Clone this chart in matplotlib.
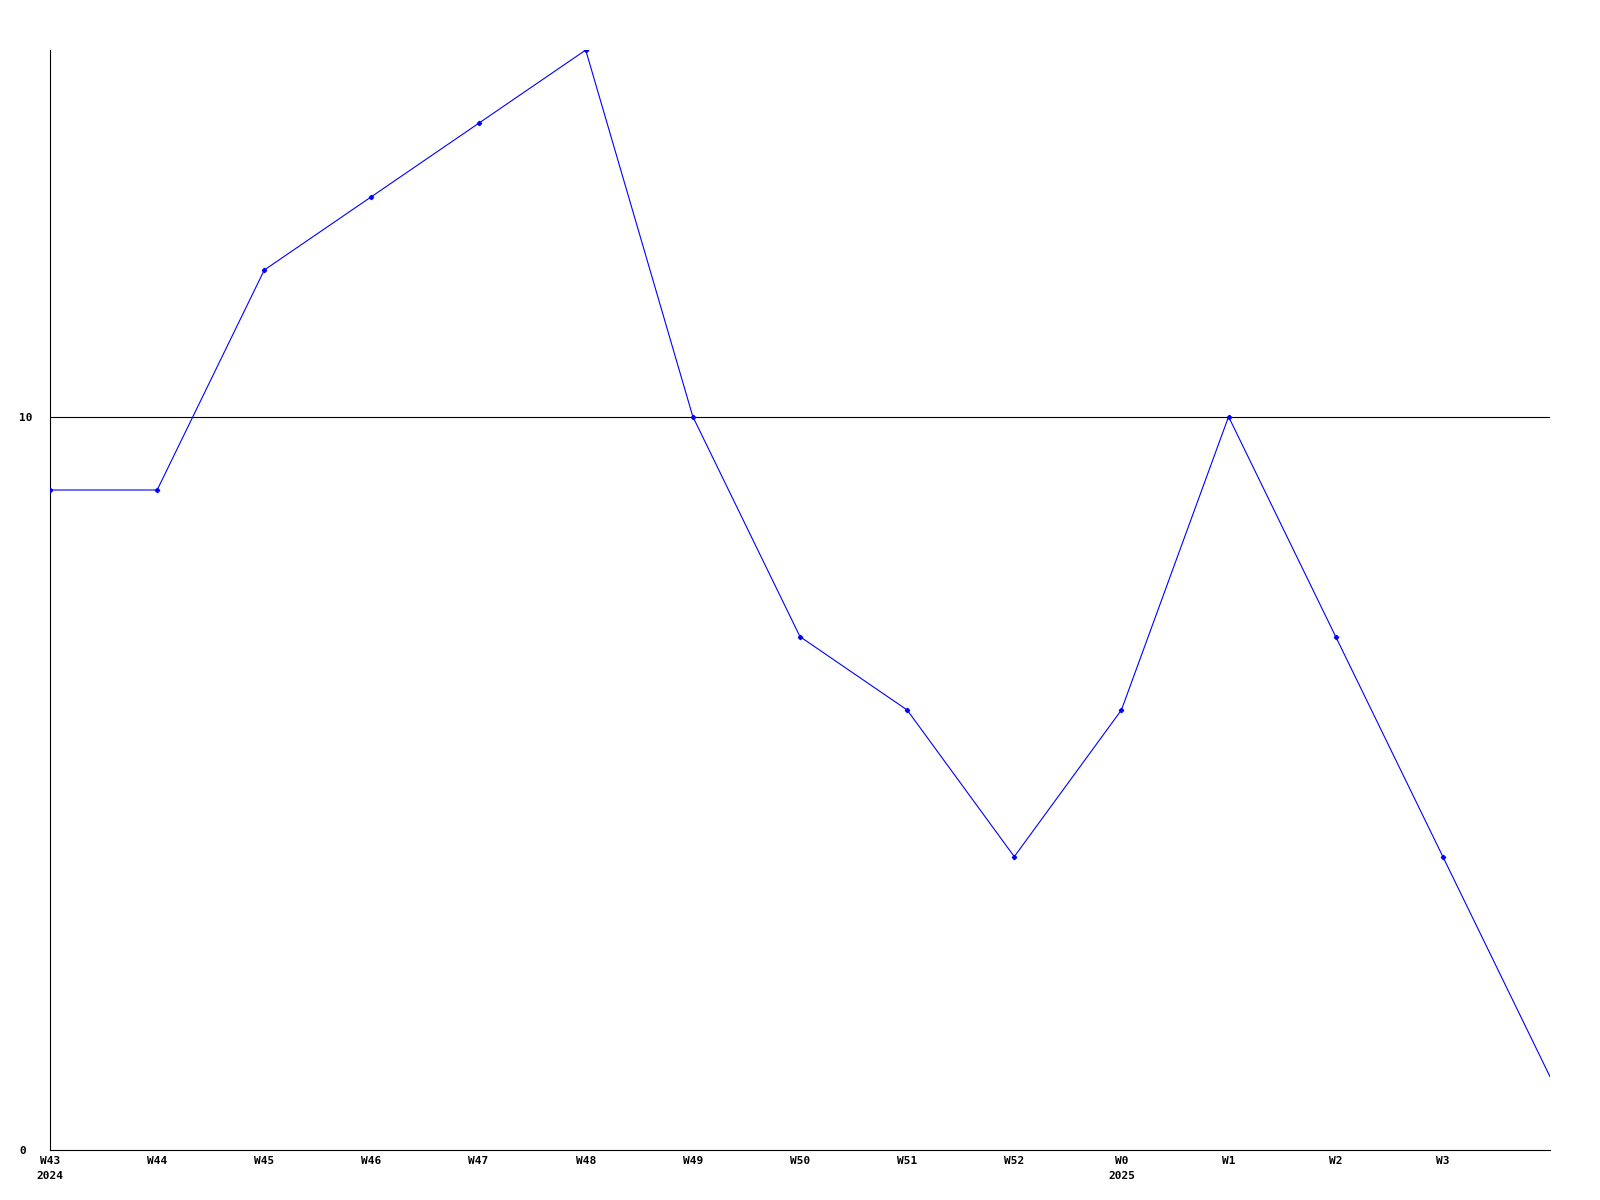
import matplotlib
matplotlib.use("Agg")
import matplotlib.pyplot as plt

weeks = ["W43", "W44", "W45", "W46", "W47", "W48", "W49", "W50", "W51", "W52", "W0", "W1", "W2", "W3", ""]
years = ["2024", "", "", "", "", "", "", "", "", "", "2025", "", "", "", ""]
values = [9, 9, 12, 13, 14, 15, 10, 7, 6, 4, 6, 10, 7, 4, 1]

fig = plt.figure(figsize=(16, 12), dpi=100)
ax = fig.add_axes([0.03125, 0.0417, 0.9375, 0.9166])

x = list(range(len(values)))
ax.plot(x, values, color="#0000ff", linewidth=0.8, marker="D", markersize=2.2,
        markevery=list(range(len(values) - 1)), zorder=3)
ax.axhline(10, color="black", linewidth=0.8, zorder=2)

ax.set_xlim(0, len(values) - 1)
ax.set_ylim(0, 15)
for s in ["top", "right"]:
    ax.spines[s].set_visible(False)
ax.spines["left"].set_linewidth(0.8)
ax.spines["bottom"].set_linewidth(0.8)

labels = [w + ("\n" + y if y else "") for w, y in zip(weeks, years)]
ax.set_xticks(x[:-1])
ax.set_xticklabels(labels[:-1], fontfamily="DejaVu Sans Mono", fontweight="bold",
                   fontsize=8, linespacing=1.65, ha="center", va="top")
ax.set_yticks([0, 10])
ax.set_yticklabels(["0", "10"], fontfamily="DejaVu Sans Mono", fontweight="bold",
                   fontsize=8, ha="left")
ax.tick_params(axis="both", length=0)
ax.tick_params(axis="y", pad=22)
ax.tick_params(axis="x", pad=4.5)

fig.savefig("out.png", dpi=100, facecolor="white")
